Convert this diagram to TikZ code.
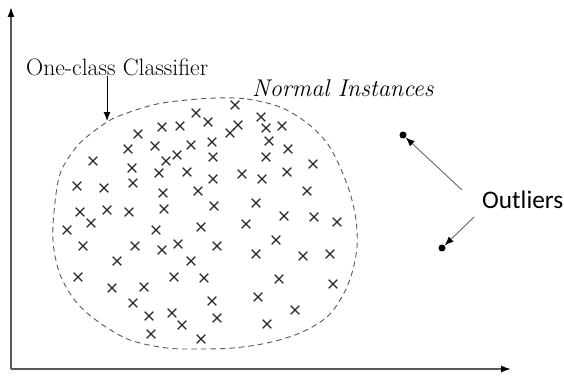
\documentclass[tikz,border=0pt]{standalone}
\usepackage{fontspec}
\newfontfamily\outfont{Carlito}
\usetikzlibrary{arrows.meta,shapes.misc}
\tikzset{
  xmark/.style={cross out, draw=black!85, minimum size=7.5pt, inner sep=0pt, line width=1.2pt},
  axis/.style={draw=black!65, line width=1.4pt},
  boundary/.style={draw=black!65, line width=0.9pt, dash pattern=on 5.5pt off 4pt},
  outlier/.style={circle, fill=black, minimum size=7pt, inner sep=0pt},
  pointer/.style={draw=black!60, line width=0.9pt, -{Latex[length=9pt,width=7pt,color=black]}},
  lbl/.style={inner sep=0pt, anchor=base west}
}
\begin{document}
\begin{tikzpicture}[x=1pt,y=-1pt]
\useasboundingbox (0,0) rectangle (564,377);
% axes
\coordinate (O) at (11,369);
\coordinate (ytip) at (11,7);
\coordinate (xtip) at (511,369);
\draw[axis,-{Latex[length=10pt,width=7pt,color=black]}] (O) -- (ytip);
\draw[axis,-{Latex[length=10pt,width=7pt,color=black]}] (O) -- (xtip);
% boundary
\draw[boundary] plot[smooth cycle, tension=0.55] coordinates {
(217,98) (247,99) (280,107) (307,123) (327,143) (340,167) (350,193) (356,220)
(357,247) (352,273) (343,295) (327,317) (300,333) (267,343) (233,348) (200,349)
(167,348) (130,340) (100,323) (77,303) (61,277) (54,250) (53,225) (57,187)
(63,167) (80,143) (107,122) (127,113) (157,104) (187,100)};
% normal instances
\foreach \p [count=\i] in {
(235,105),(196,113),(208,122),(261,117),(238,125),(266,128),(282,126),(162,127),
(180,126),(138,134),(230,133),(269,141),(155,146),(191,145),(212,142),(128,149),
(177,155),(166,161),(213,157),(266,157),(288,149),(93,161),(132,168),(159,173),
(187,172),(213,179),(242,174),(262,179),(287,172),(77,186),(104,188),(133,183),
(163,193),(198,191),(80,212),(107,210),(129,212),(164,209),(214,206),(256,203),
(284,216),(91,223),(67,230),(156,230),(201,227),(246,224),(83,246),(135,246),
(162,250),(178,244),(217,246),(276,240),(256,254),(117,261),(191,261),(78,277),
(174,277),(204,278),(279,279),(112,288),(144,287),(133,303),(212,301),(258,297),
(295,310),(149,316),(172,313),(182,325),(217,318),(267,324),(151,334),(201,339),
(313,164),(307,191),(314,217),(337,222),(303,256),(330,254),(333,284)}
  \node[xmark] (m\i) at \p {};
% labels
\node[lbl, font=\fontsize{23.7}{28}\selectfont] (occ) at (26,76) {One-class Classifier};
\node[lbl, font=\fontsize{24.2}{28}\selectfont\itshape] (ni) at (252,96) {Normal Instances};
\node[lbl, font=\outfont\fontsize{25.3}{30}\selectfont] (out) at (482,208) {Outliers};
\coordinate (occstart) at (107,76);
\coordinate (occtip) at (107,121);
\draw[pointer, draw=black, line width=1pt] (occstart) -- (occtip);
% outliers
\node[outlier] (o1) at (403,135) {};
\node[outlier] (o2) at (442,248) {};
\coordinate (a1) at (462,190);
\coordinate (a2) at (474,217);
\draw[pointer] (a1) -- (o1);
\draw[pointer] (a2) -- (o2);
\end{tikzpicture}
\end{document}
